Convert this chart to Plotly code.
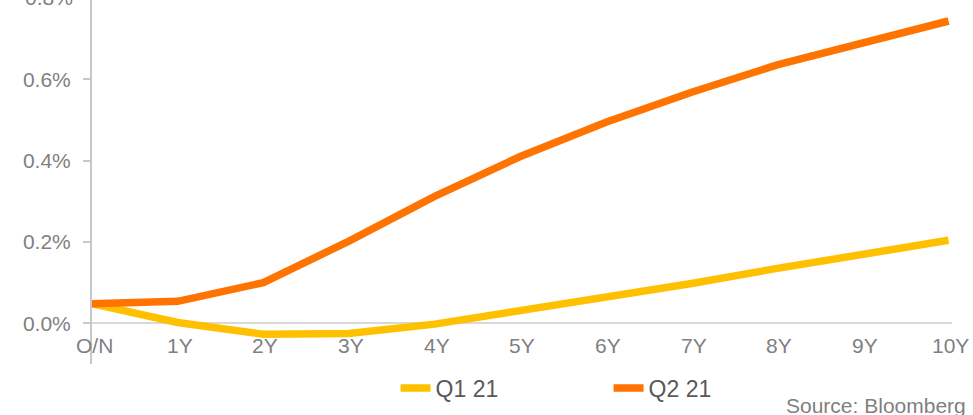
import plotly.graph_objects as go

tenors = ["O/N", "1Y", "2Y", "3Y", "4Y", "5Y", "6Y", "7Y", "8Y", "9Y", "10Y"]
q1_21 = [0.048, 0.002, -0.027, -0.025, -0.002, 0.030, 0.064, 0.098, 0.135, 0.170, 0.204]
q2_21 = [0.048, 0.054, 0.100, 0.202, 0.312, 0.410, 0.494, 0.568, 0.635, 0.690, 0.743]
y_ticks = [0.0, 0.2, 0.4, 0.6, 0.8]

FONT = "Liberation Sans, Arial, sans-serif"
GRAY = "#7f7f7f"
AXIS = "#c8c8c8"
y_range = [-0.1, 0.7946]

xs = list(range(len(tenors)))

fig = go.Figure()
fig.add_trace(go.Scatter(x=xs, y=q1_21, mode="lines", name="Q1 21",
                         line=dict(color="#FFC000", width=7.5)))
fig.add_trace(go.Scatter(x=xs, y=q2_21, mode="lines", name="Q2 21",
                         line=dict(color="#FF7300", width=7.5)))

# category labels sit just under the zero line
for x, t in zip(xs, tenors):
    fig.add_annotation(x=x, y=0, xref="x", yref="y", text=t, showarrow=False,
                       yshift=-22, xshift=2, font=dict(family=FONT, size=21, color=GRAY))

# top tick label falls just outside the visible area
top = y_ticks[-1]
fig.add_annotation(x=0, xref="paper", yref="paper",
                   y=(top - y_range[0]) / (y_range[1] - y_range[0]),
                   text=f"{top:.1f}%", showarrow=False, xanchor="right", yanchor="middle",
                   xshift=-17, font=dict(family=FONT, size=21, color=GRAY))

fig.add_annotation(x=1.0186, y=-0.113, xref="paper", yref="paper", text="Source: Bloomberg",
                   showarrow=False, xanchor="right", yanchor="middle",
                   font=dict(family=FONT, size=21, color=GRAY))

fig.update_layout(
    width=973, height=415,
    margin=dict(l=92, r=21, t=0, b=51),
    plot_bgcolor="white", paper_bgcolor="white",
    font=dict(family=FONT, size=21, color=GRAY),
    showlegend=True,
    legend=dict(orientation="h", x=0.353, y=-0.066, xanchor="left", yanchor="middle",
                entrywidth=168, entrywidthmode="pixels",
                font=dict(family=FONT, size=23, color="#595959"),
                bgcolor="rgba(0,0,0,0)"),
    xaxis=dict(range=[0, 10.04], showgrid=False, showticklabels=False, ticks="",
               zeroline=False, showline=False, automargin=False),
    yaxis=dict(range=y_range, tickvals=y_ticks[:-1],
               ticktext=[f"{v:.1f}%" for v in y_ticks[:-1]],
               showgrid=False, showline=True, linecolor=AXIS, linewidth=2,
               ticks="outside", ticklen=7, tickcolor=AXIS, tickwidth=2,
               ticklabelstandoff=8, automargin=False,
               zeroline=True, zerolinecolor="#d9d9d9", zerolinewidth=2,
               tickfont=dict(family=FONT, size=21, color=GRAY)),
)

fig.write_html("out.html", config={"displayModeBar": False},
               post_script="document.body.style.margin='0';")
